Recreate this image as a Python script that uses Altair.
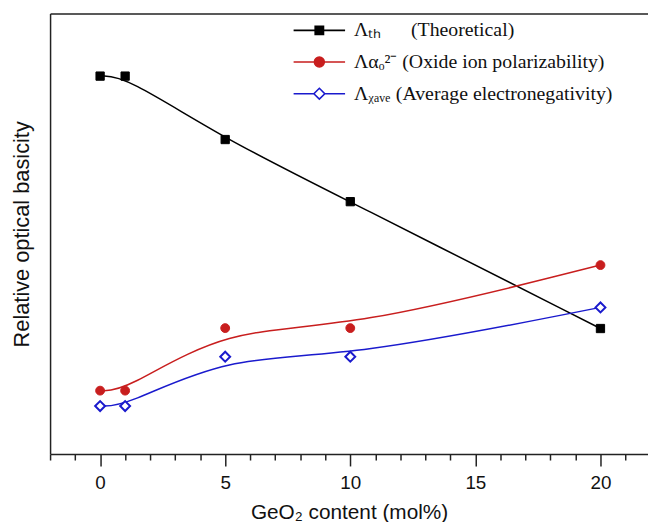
import altair as alt
import pandas as pd

# ---- data ----
x_vals = [0, 1, 5, 10, 20]
theoretical = [0.858, 0.858, 0.714, 0.573, 0.285]
oxide = [0.144, 0.144, 0.286, 0.286, 0.429]
electroneg = [0.109, 0.109, 0.221, 0.221, 0.333]

series_keys = ["th", "ox", "el"]
series_labels = [
    "Λₜₕ\u2003\u2002(Theoretical)",
    "Λαₒ²⁻ (Oxide ion polarizability)",
    "Λᵪₐᵥₑ\u2009\u200a(Average electronegativity)",
]
series_colors = ["#000000", "#c81e1e", "#1a1acd"]
marker_shapes = ["square", "circle", "diamond"]
marker_fills = ["#000000", "#c81e1e", "#ffffff"]
marker_sizes = [70, 80, 100]
marker_strokes = [1, 1, 2]
legend_paths = [
    "M-2.6,0H2.6M-0.42,-0.42H0.42V0.42H-0.42Z",
    "M-2.6,0H2.6M-0.5,0A0.5,0.5,0,1,0,0.5,0A0.5,0.5,0,1,0,-0.5,0Z",
    "M-2.6,0H-0.55M0.55,0H2.6M0,-0.55L0.55,0L0,0.55L-0.55,0Z",
]
x_ticks = list(range(-2, 22))

rows = []
for key, vals in zip(series_keys, [theoretical, oxide, electroneg]):
    for x, y in zip(x_vals, vals):
        rows.append({"series": key, "x": x, "y": y})
df = pd.DataFrame(rows)

x_scale = alt.Scale(domain=[-2, 21.9], nice=False, zero=False)
y_scale = alt.Scale(domain=[0, 1], nice=False, zero=False)
FRAME = "#222222"

bottom_axis = alt.Axis(
    orient="bottom", values=x_ticks, grid=False,
    domainColor=FRAME, domainWidth=1.5, tickColor=FRAME, tickWidth=1.5,
    tickSize={"condition": {"test": "datum.value % 5 === 0", "value": 12}, "value": 6},
    labelExpr="datum.value % 5 === 0 ? datum.label : ''",
    labelFont="Liberation Sans", labelFontSize=19, labelColor="#111111",
    labelPadding=8, labelOverlap=False, labelFlush=False,
    title="GeO₂ content (mol%)", titleFont="Liberation Sans", titleFontSize=21,
    titleFontWeight="normal", titleColor="#111111", titlePadding=9,
)
left_axis = alt.Axis(
    orient="left", grid=False, ticks=False, labels=False,
    domainColor=FRAME, domainWidth=1.5,
    title="Relative optical basicity", titleFont="Liberation Sans", titleFontSize=22,
    titleFontWeight="normal", titleColor="#111111", titlePadding=17,
)
top_axis = alt.Axis(orient="top", grid=False, ticks=False, labels=False, title=None,
                    domainColor=FRAME, domainWidth=1.5)

lines = alt.Chart(df).mark_line(interpolate="basis", strokeWidth=1.5).encode(
    x=alt.X("x:Q", scale=x_scale, axis=bottom_axis),
    y=alt.Y("y:Q", scale=y_scale, axis=left_axis),
    color=alt.Color("series:N", scale=alt.Scale(domain=series_keys, range=series_colors), legend=None),
)

frame = alt.Chart(df).mark_point(opacity=0).encode(
    x=alt.X("x:Q", scale=x_scale, axis=top_axis),
    y=alt.Y("y:Q", scale=y_scale, axis=None),
)

point_layers = []
for key, shp, fl, col, sz, sw in zip(series_keys, marker_shapes, marker_fills, series_colors,
                                      marker_sizes, marker_strokes):
    point_layers.append(
        alt.Chart(df).transform_filter(alt.datum.series == key).mark_point(
            shape=shp, size=sz, filled=True, fill=fl, stroke=col, strokeWidth=sw, opacity=1
        ).encode(
            x=alt.X("x:Q", scale=x_scale, axis=None),
            y=alt.Y("y:Q", scale=y_scale, axis=None),
        )
    )

leg = alt.Legend(
    title=None, orient="none", legendX=261, legendY=6,
    labelFont="Liberation Serif", labelFontSize=20, labelColor="#111111", labelLimit=500,
    symbolSize=400, symbolStrokeWidth=1.6, symbolOpacity=1, labelOffset=24,
    rowPadding=11, padding=0,
)
legend_df = pd.DataFrame({"entry": series_labels})
legend_layer = alt.Chart(legend_df).transform_filter("false").mark_point(
    opacity=1, filled=True
).encode(
    shape=alt.Shape("entry:N", scale=alt.Scale(domain=series_labels, range=legend_paths), legend=leg),
    fill=alt.Fill("entry:N", scale=alt.Scale(domain=series_labels, range=marker_fills), legend=leg),
    stroke=alt.Stroke("entry:N", scale=alt.Scale(domain=series_labels, range=series_colors), legend=leg),
)

chart = alt.layer(lines, frame, *point_layers, legend_layer).resolve_axis(
    x="independent", y="independent"
).properties(
    width=604, height=445,
    padding={"left": 42.5, "top": 3, "right": 0, "bottom": 66},
    autosize=alt.AutoSizeParams(type="none"),
).configure_view(stroke=None)

chart.save("out.html", embed_options={"renderer": "svg", "actions": False})
